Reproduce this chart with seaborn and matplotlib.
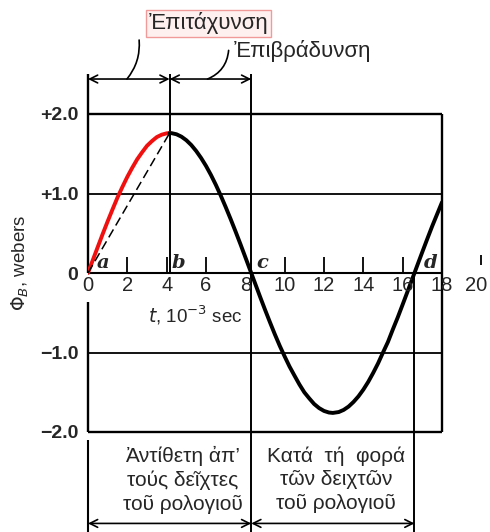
import matplotlib
matplotlib.use('Agg')
import matplotlib.pyplot as plt
import seaborn as sns

# Flux curve (t in 10^-3 s, phi in webers).
t_red = [0.0, 0.25, 0.5, 0.75, 1.0, 1.25, 1.5, 1.75, 2.0, 2.25, 2.5, 2.75,
         3.0, 3.25, 3.5, 3.75, 4.0, 4.15]
phi_red = [0.0, 0.166, 0.33, 0.493, 0.65, 0.802, 0.95, 1.083, 1.21, 1.324,
           1.43, 1.518, 1.60, 1.659, 1.71, 1.74, 1.757, 1.76]
t_black = [4.15, 4.25, 4.5, 4.75, 5.0, 5.25, 5.5, 5.75, 6.0, 6.25, 6.5, 6.75,
           7.0, 7.25, 7.5, 7.75, 8.0, 8.3, 8.5, 8.75, 9.0, 9.25, 9.5, 9.75,
           10.0, 10.25, 10.5, 10.75, 11.0, 11.25, 11.5, 11.75, 12.0, 12.25,
           12.45, 12.75, 13.0, 13.25, 13.5, 13.75, 14.0, 14.25, 14.5, 14.75,
           15.0, 15.25, 15.5, 15.75, 16.0, 16.25, 16.6, 16.75, 17.0, 17.25,
           17.5, 17.75, 18.0]
phi_black = [1.76, 1.759, 1.745, 1.715, 1.67, 1.61, 1.535, 1.447, 1.347, 1.234,
             1.109, 0.974, 0.83, 0.68, 0.524, 0.364, 0.199, 0.0, -0.133,
             -0.299, -0.461, -0.618, -0.771, -0.916, -1.05, -1.178, -1.291,
             -1.402, -1.501, -1.577, -1.648, -1.699, -1.735, -1.755, -1.76,
             -1.749, -1.722, -1.68, -1.622, -1.552, -1.467, -1.369, -1.257,
             -1.136, -1.0, -0.868, -0.71, -0.558, -0.396, -0.232, 0.0, 0.1,
             0.265, 0.428, 0.588, 0.739, 0.89]

# Chord a -> b
chord_t = [0.0, 4.15]
chord_phi = [0.0, 1.76]

# Marked instants a, b, c, d
marks = ['a', 'b', 'c', 'd']
mark_t = [0.0, 4.15, 8.3, 16.6]

x_ticks = [0, 2, 4, 6, 8, 10, 12, 14, 16, 18, 20]
y_ticks = [-2, -1, 0, 1, 2]
y_tick_labels = ['\u22122.0', '\u22121.0', '0', '+1.0', '+2.0']

top_labels = ['\u1F18\u03C0\u03B9\u03C4\u03AC\u03C7\u03C5\u03BD\u03C3\u03B7',
              '\u1F18\u03C0\u03B9\u03B2\u03C1\u03AC\u03B4\u03C5\u03BD\u03C3\u03B7']
bottom_labels = ['\u1F08\u03BD\u03C4\u03AF\u03B8\u03B5\u03C4\u03B7 \u1F00\u03C0\u2019\n'
                 '\u03C4\u03BF\u03CD\u03C2 \u03B4\u03B5\u1FD6\u03C7\u03C4\u03B5\u03C2\n'
                 '\u03C4\u03BF\u1FE6 \u03C1\u03BF\u03BB\u03BF\u03B3\u03B9\u03BF\u1FE6',
                 '\u039A\u03B1\u03C4\u03AC  \u03C4\u03AE  \u03C6\u03BF\u03C1\u03AC\n'
                 '\u03C4\u1FF6\u03BD \u03B4\u03B5\u03B9\u03C7\u03C4\u1FF6\u03BD\n'
                 '\u03C4\u03BF\u1FE6 \u03C1\u03BF\u03BB\u03BF\u03B3\u03B9\u03BF\u1FE6']

sns.set_style("white")
plt.rcParams['font.family'] = ['Liberation Sans', 'DejaVu Sans']

fig = plt.figure(figsize=(4.9, 5.32), dpi=100)
ax = fig.add_axes([88 / 490, 100 / 532, 354 / 490, 318 / 532])
ax.set_xlim(0, 18)
ax.set_ylim(-2, 2)
for s in ax.spines.values():
    s.set_visible(False)
ax.set_xticks([])
ax.set_yticks(y_ticks)
ax.set_yticklabels(y_tick_labels, fontsize=14, fontweight='bold')
ax.tick_params(axis='y', length=0, pad=7)

lw_frame = 1.7
k = dict(color='black', clip_on=False)
# frame and grid
ax.hlines([2, -2], 0, 18, lw=lw_frame, **k)
ax.hlines([1, -1], 0, 18, lw=1.3, **k)
ax.hlines(0, 0, 18, lw=1.5, **k)
ax.vlines(18, -2, 2, lw=lw_frame, **k)
ax.vlines(0, 0, 2.5, lw=lw_frame, **k)
ax.vlines(0, -2, -0.37, lw=lw_frame, **k)
ax.vlines(0, -2.1, -3.28, lw=1.5, **k)
ax.vlines(mark_t[1], 0, 2.5, lw=1.4, **k)
ax.vlines(mark_t[2], -3.28, 2.5, lw=1.4, **k)
ax.vlines(mark_t[3], -3.28, 0, lw=1.4, **k)

# small ticks on the time axis
for xt in [2, 4, 6, 10, 12, 14, 16]:
    ax.vlines(xt, 0, 0.2, lw=1.3, **k)
ax.vlines(20, 0.1, 0.23, lw=1.3, **k)
ax.vlines(18, -0.34, -0.55, lw=1.3, **k)

for xt in x_ticks:
    xpos = xt if xt < 20 else 19.75
    ax.text(xpos, -0.16, str(xt), ha='center', va='center', fontsize=14.5)

# curve
sns.lineplot(x=t_red, y=phi_red, color='#f01010', lw=2.8, ax=ax,
             estimator=None, legend=False, solid_joinstyle='round')
sns.lineplot(x=t_black, y=phi_black, color='black', lw=2.8, ax=ax,
             estimator=None, legend=False, solid_joinstyle='round')
ax.plot(chord_t, chord_phi, color='black', lw=1.1, ls=(0, (6, 3)))

label_x = [0.76, 4.6, 8.85, 17.4]
for m, lx in zip(marks, label_x):
    ax.text(lx, 0.13, m, ha='center', va='center', fontsize=14,
            family='DejaVu Serif', style='italic', fontweight='bold')

ax.text(5.44, -0.53, r'$t$, 10$^{-3}$ sec', ha='center', va='center',
        fontsize=13.5)
ax.text(-3.46, 0.13, r'$\Phi_B$, webers', ha='center', va='center',
        rotation=90, fontsize=13.5)

# double arrows above and below
arr = dict(arrowstyle='<->', lw=1.2, color='black', mutation_scale=14,
           shrinkA=0, shrinkB=0)
ax.annotate('', xy=(0, 2.44), xytext=(mark_t[1], 2.44), arrowprops=arr,
            annotation_clip=False)
ax.annotate('', xy=(mark_t[1], 2.44), xytext=(mark_t[2], 2.44), arrowprops=arr,
            annotation_clip=False)
ax.annotate('', xy=(0, -3.15), xytext=(mark_t[2], -3.15), arrowprops=arr,
            annotation_clip=False)
ax.annotate('', xy=(mark_t[2], -3.15), xytext=(mark_t[3], -3.15), arrowprops=arr,
            annotation_clip=False)

# top labels with leaders
ax.text(6.15, 3.14, top_labels[0], ha='center', va='center', fontsize=16,
        bbox=dict(boxstyle='square,pad=0.12', fc='#fff0f0', ec='#f09a9a', lw=1))
ax.annotate('', xy=(1.98, 2.44), xytext=(2.6, 2.93),
            arrowprops=dict(arrowstyle='-', lw=1.2, color='black',
                            shrinkA=0, shrinkB=0,
                            connectionstyle='arc3,rad=-0.2'),
            annotation_clip=False)
ax.text(7.4, 2.79, top_labels[1], ha='left', va='center', fontsize=16)
ax.annotate('', xy=(6.08, 2.44), xytext=(7.15, 2.8),
            arrowprops=dict(arrowstyle='-', lw=1.2, color='black',
                            shrinkA=0, shrinkB=0,
                            connectionstyle='arc3,rad=-0.3'),
            annotation_clip=False)

# bottom labels
ax.text(4.82, -2.6, bottom_labels[0], ha='center', va='center', fontsize=15,
        linespacing=1.3)
ax.text(12.6, -2.6, bottom_labels[1], ha='center', va='center', fontsize=15,
        linespacing=1.3)

ax.set_xlabel('')
ax.set_ylabel('')
fig.savefig('out.png', dpi=100)
plt.close()
